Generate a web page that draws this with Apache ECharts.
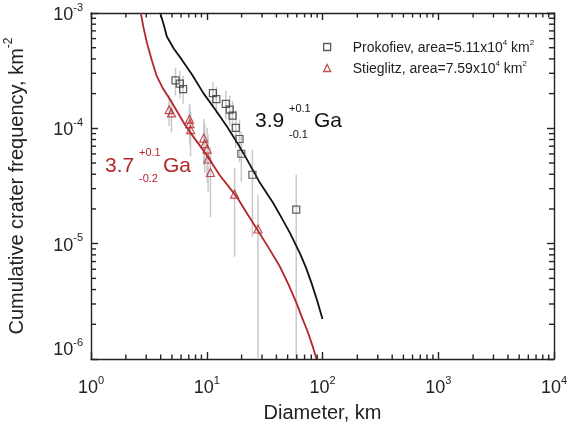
<!DOCTYPE html>
<html>
<head>
<meta charset="utf-8">
<script src="https://cdn.jsdelivr.net/npm/echarts@6/dist/echarts.min.js"></script>
<style>
  html, body { margin: 0; padding: 0; background: #fff; }
  #chart { width: 568px; height: 425px; }
</style>
</head>
<body>
<div id="chart"></div>
<script>
// Prokofiev (squares)
const prokD = [5.37, 5.85, 6.25, 11.3, 12.1, 14.6, 15.8, 16.7, 17.8, 19.2, 19.9, 24.8, 59.3];
const prokN = [2.60e-4, 2.44e-4, 2.19e-4, 2.02e-4, 1.79e-4, 1.63e-4, 1.45e-4, 1.29e-4, 1.01e-4, 8.08e-5, 6.02e-5, 3.96e-5, 1.97e-5];
const prokHi = [3.36e-4, 3.16e-4, 2.86e-4, 2.54e-4, 2.30e-4, 2.12e-4, 1.92e-4, 1.73e-4, 1.42e-4, 1.19e-4, 9.4e-5, 6.5e-5, 3.96e-5];
const prokLo = [1.92e-4, 1.81e-4, 1.63e-4, 1.51e-4, 1.34e-4, 1.19e-4, 1.05e-4, 9.2e-5, 6.8e-5, 5.1e-5, 3.44e-5, 1.15e-5, 5e-7];

// Stieglitz (triangles)
const stiegD = [4.73, 4.96, 7.1, 7.15, 7.25, 9.42, 9.61, 10.07, 10.27, 10.76, 17.4, 27.7];
const stiegN = [1.45e-4, 1.36e-4, 1.20e-4, 1.10e-4, 9.73e-5, 8.24e-5, 7.35e-5, 6.61e-5, 5.42e-5, 4.14e-5, 2.69e-5, 1.34e-5];
const stiegHi = [1.95e-4, 1.81e-4, 1.63e-4, 1.51e-4, 1.39e-4, 1.21e-4, 1.10e-4, 1.01e-4, 8.8e-5, 6.9e-5, 4.5e-5, 2.65e-5];
const stiegLo = [1.05e-4, 9.2e-5, 8.0e-5, 7.1e-5, 5.7e-5, 4.8e-5, 4.1e-5, 3.4e-5, 2.8e-5, 1.7e-5, 7.7e-6, 5e-7];

// isochrons
const iso39D = [3.96, 4.25, 4.52, 5.2, 6.09, 7.5, 9.35, 12.0, 15.0, 18.5, 22.3, 28.8, 37.5, 44.0, 52.3, 63.7, 72.0, 80.4, 90.0, 100];
const iso39N = [1.0e-3, 7.9e-4, 6.26e-4, 4.9e-4, 3.94e-4, 2.9e-4, 2.02e-4, 1.43e-4, 1.03e-4, 7.4e-5, 5.35e-5, 3.37e-5, 2.25e-5, 1.7e-5, 1.24e-5, 8.28e-6, 6.2e-6, 4.55e-6, 3.2e-6, 2.22e-6];
const iso37D = [2.69, 2.85, 3.04, 3.35, 3.71, 4.2, 4.83, 5.6, 6.50, 7.9, 9.67, 13.0, 18.1, 22.5, 27.9, 34.5, 42.8, 51.0, 59.7, 67.0, 75.2, 82.0, 88.8];
const iso37N = [1.0e-3, 7.4e-4, 5.52e-4, 3.9e-4, 2.82e-4, 2.2e-4, 1.77e-4, 1.38e-4, 1.07e-4, 8.1e-5, 6.14e-5, 3.9e-5, 2.56e-5, 1.8e-5, 1.28e-5, 9.1e-6, 6.34e-6, 4.4e-6, 3.05e-6, 2.25e-6, 1.68e-6, 1.3e-6, 1.0e-6];

// axes
const xMin = 1, xMax = 1e4, yMin = 1e-6, yMax = 1e-3;
const xDecades = [1, 10, 100, 1000];
const yDecades = [1e-6, 1e-5, 1e-4];
const minorSteps = [2, 3, 4, 5, 6, 7, 8, 9];

const RED = '#b3262a';
const INK = '#222';
const FONT = 'Liberation Sans, Arial, Helvetica, sans-serif';

const zip = (a, b) => a.map((v, i) => [v, b[i]]);
const bars = (d, lo, hi) => d.map((v, i) => [v, lo[i], hi[i]]);

// minor tick positions (2..9 in every decade)
const xMinor = [];
xDecades.forEach(p => minorSteps.forEach(m => xMinor.push([m * p, yMin])));
const yMinor = [];
yDecades.forEach(p => minorSteps.forEach(m => yMinor.push([xMin, m * p])));

const expRich = {
  b: { fontSize: 18, lineHeight: 22, verticalAlign: 'bottom', color: INK, fontFamily: FONT },
  s: { fontSize: 11, lineHeight: 12, verticalAlign: 'top', color: INK, fontFamily: FONT }
};
const expLabel = v => '{b|10}{s|' + Math.round(Math.log10(v)) + '}';

function mkAxisLine() {
  return { show: true, lineStyle: { color: INK, width: 1.4 } };
}
function mkTick() {
  return { show: true, inside: true, length: 7, lineStyle: { color: INK, width: 1.4 } };
}

// grey error bars
function renderBar(params, api) {
  const x = api.value(0);
  const a = api.coord([x, api.value(1)]);
  const b = api.coord([x, api.value(2)]);
  return {
    type: 'line',
    shape: { x1: a[0], y1: a[1], x2: b[0], y2: b[1] },
    style: { stroke: '#c9c9c9', lineWidth: 1.5 }
  };
}

// minor ticks, bottom + top
function renderXMinor(params, api) {
  const b = api.coord([api.value(0), yMin]);
  const t = api.coord([api.value(0), yMax]);
  const st = { stroke: INK, lineWidth: 1.4 };
  return {
    type: 'group',
    children: [
      { type: 'line', shape: { x1: b[0], y1: b[1], x2: b[0], y2: b[1] - 4.5 }, style: st },
      { type: 'line', shape: { x1: t[0], y1: t[1], x2: t[0], y2: t[1] + 4.5 }, style: st }
    ]
  };
}

// minor ticks, left + right
function renderYMinor(params, api) {
  const l = api.coord([xMin, api.value(1)]);
  const r = api.coord([xMax, api.value(1)]);
  const st = { stroke: INK, lineWidth: 1.4 };
  return {
    type: 'group',
    children: [
      { type: 'line', shape: { x1: l[0], y1: l[1], x2: l[0] + 5, y2: l[1] }, style: st },
      { type: 'line', shape: { x1: r[0], y1: r[1], x2: r[0] - 5, y2: r[1] }, style: st }
    ]
  };
}

const chart = echarts.init(document.getElementById('chart'));

const option = {
  animation: false,
  backgroundColor: '#fff',
  grid: { left: 91, right: 14, top: 13, bottom: 66, containLabel: false, outerBoundsMode: 'none' },
  xAxis: [
    {
      type: 'log', logBase: 10, min: xMin, max: xMax, position: 'bottom',
      axisLine: mkAxisLine(), axisTick: mkTick(), splitLine: { show: false },
      axisLabel: { formatter: expLabel, rich: expRich, margin: 16, showMaxLabel: true },
      name: 'Diameter, km', nameLocation: 'middle', nameGap: 44,
      nameTextStyle: { fontSize: 20, color: INK, fontFamily: FONT }
    },
    {
      type: 'log', logBase: 10, min: xMin, max: xMax, position: 'top',
      axisLine: mkAxisLine(), axisTick: mkTick(), splitLine: { show: false },
      axisLabel: { show: false }
    }
  ],
  yAxis: [
    {
      type: 'log', logBase: 10, min: yMin, max: yMax, position: 'left',
      axisLine: mkAxisLine(), axisTick: mkTick(), splitLine: { show: false },
      axisLabel: {
        formatter: expLabel, rich: expRich, margin: 8,
        verticalAlignMinLabel: 'bottom', verticalAlignMaxLabel: 'top'
      },
      name: '{n|Cumulative crater frequency, km}{s|-2}',
      nameLocation: 'middle', nameGap: 64,
      nameTextStyle: {
        rich: {
          n: { fontSize: 20, lineHeight: 24, verticalAlign: 'bottom', color: INK, fontFamily: FONT },
          s: { fontSize: 12, lineHeight: 13, verticalAlign: 'top', color: INK, fontFamily: FONT }
        }
      }
    },
    {
      type: 'log', logBase: 10, min: yMin, max: yMax, position: 'right',
      axisLine: mkAxisLine(), axisTick: mkTick(), splitLine: { show: false },
      axisLabel: { show: false }
    }
  ],
  legend: {
    orient: 'vertical', left: 318, top: 34, itemWidth: 7, itemHeight: 7, itemGap: 5,
    data: [
      { name: 'Prokofiev', icon: 'rect', itemStyle: { color: 'transparent', borderColor: '#333', borderWidth: 1.3 } },
      { name: 'Stieglitz', icon: 'triangle', itemStyle: { color: 'transparent', borderColor: RED, borderWidth: 1.3 } }
    ],
    formatter: name => name === 'Prokofiev'
      ? '{a|Prokofiev, area=5.11x10}{s|4}{a| km}{s|2}'
      : '{a|Stieglitz, area=7.59x10}{s|4}{a| km}{s|2}',
    textStyle: {
      padding: [0, 0, 0, 17],
      rich: {
        a: { fontSize: 14, lineHeight: 16, verticalAlign: 'bottom', color: INK, fontFamily: FONT },
        s: { fontSize: 8, lineHeight: 9, verticalAlign: 'top', color: INK, fontFamily: FONT }
      }
    }
  },
  graphic: [
    { type: 'text', x: 105, y: 166.5, style: { text: '3.7', font: '21px ' + FONT, fill: RED, verticalAlign: 'middle' } },
    { type: 'text', x: 139, y: 153, style: { text: '+0.1', font: '11px ' + FONT, fill: RED, verticalAlign: 'middle' } },
    { type: 'text', x: 139, y: 178.5, style: { text: '-0.2', font: '11px ' + FONT, fill: RED, verticalAlign: 'middle' } },
    { type: 'text', x: 163, y: 166.5, style: { text: 'Ga', font: '21px ' + FONT, fill: RED, verticalAlign: 'middle' } },
    { type: 'text', x: 255, y: 121.5, style: { text: '3.9', font: '21px ' + FONT, fill: '#111', verticalAlign: 'middle' } },
    { type: 'text', x: 289, y: 109, style: { text: '+0.1', font: '11px ' + FONT, fill: '#111', verticalAlign: 'middle' } },
    { type: 'text', x: 289, y: 134.5, style: { text: '-0.1', font: '11px ' + FONT, fill: '#111', verticalAlign: 'middle' } },
    { type: 'text', x: 314, y: 121.5, style: { text: 'Ga', font: '21px ' + FONT, fill: '#111', verticalAlign: 'middle' } }
  ],
  series: [
    { type: 'custom', name: 'xminor', renderItem: renderXMinor, data: xMinor, clip: false, silent: true, z: 5 },
    { type: 'custom', name: 'yminor', renderItem: renderYMinor, data: yMinor, clip: false, silent: true, z: 5 },
    { type: 'custom', name: 'err-p', renderItem: renderBar, data: bars(prokD, prokLo, prokHi), clip: true, silent: true, z: 1 },
    { type: 'custom', name: 'err-s', renderItem: renderBar, data: bars(stiegD, stiegLo, stiegHi), clip: true, silent: true, z: 1 },
    {
      type: 'line', name: 'iso39', data: zip(iso39D, iso39N), showSymbol: false, symbol: 'none',
      clip: true, silent: true, z: 2,
      lineStyle: { color: '#111', width: 1.8, join: 'round' }
    },
    {
      type: 'line', name: 'iso37', data: zip(iso37D, iso37N), showSymbol: false, symbol: 'none',
      clip: true, silent: true, z: 2,
      lineStyle: { color: RED, width: 1.8, join: 'round' }
    },
    {
      type: 'scatter', name: 'Prokofiev', data: zip(prokD, prokN), symbol: 'rect', symbolSize: 7, z: 3,
      itemStyle: { color: 'transparent', borderColor: '#333', borderWidth: 1.2 }
    },
    {
      type: 'scatter', name: 'Stieglitz', data: zip(stiegD, stiegN), symbol: 'triangle', symbolSize: 8, z: 3,
      itemStyle: { color: 'transparent', borderColor: RED, borderWidth: 1.2 }
    }
  ]
};

chart.setOption(option);
</script>
</body>
</html>
